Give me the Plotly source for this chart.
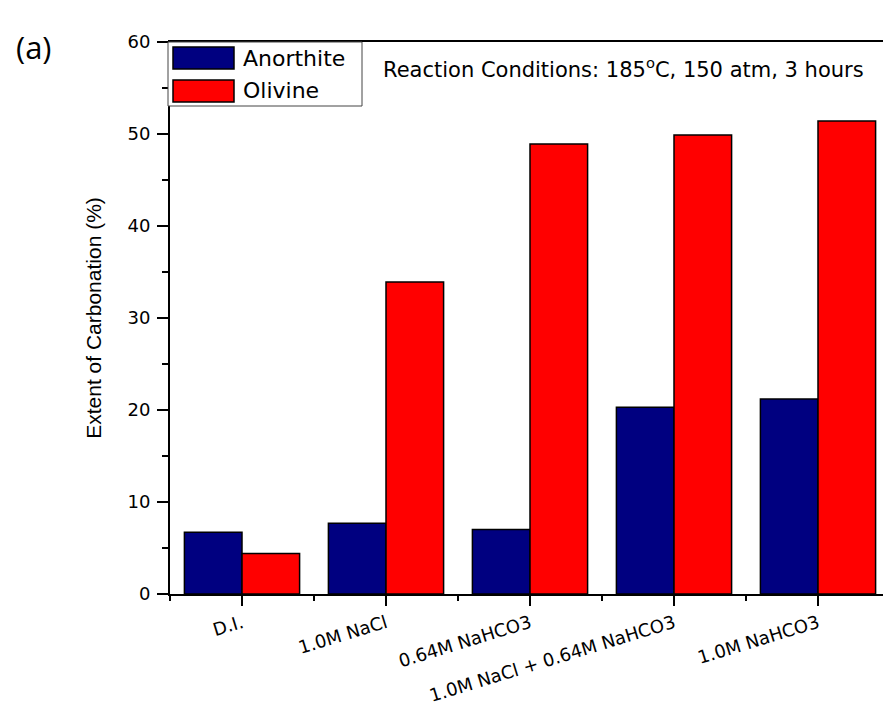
import plotly.graph_objects as go

categories = ["D.I.", "1.0M NaCl", "0.64M NaHCO3", "1.0M NaCl + 0.64M NaHCO3", "1.0M NaHCO3"]
anorthite = [6.7, 7.7, 7.0, 20.3, 21.2]
olivine = [4.4, 33.9, 48.9, 49.9, 51.4]
series_names = ["Anorthite", "Olivine"]
series_colors = ["#000080", "#FF0000"]

W, H = 883, 708
L, R, T, B = 170, 0, 42, 114
pw, ph = W - L - R, H - T - B

def px(x):
    return (x - L) / pw

def py(y):
    return (H - B - y) / ph

xpos = list(range(len(categories)))
FONT = "DejaVu Sans, Liberation Sans, Arial, sans-serif"
ARIAL = "Liberation Sans, Arial, sans-serif"

fig = go.Figure()
for name, vals, col in zip(series_names, [anorthite, olivine], series_colors):
    fig.add_trace(go.Bar(
        x=xpos, y=vals, name=name,
        marker=dict(color=col, line=dict(color="black", width=1.5)),
        showlegend=False,
    ))

fig.update_layout(
    width=W, height=H,
    margin=dict(l=L, r=R, t=T, b=B, autoexpand=False),
    paper_bgcolor="white", plot_bgcolor="white",
    barmode="group", bargap=0.2, bargroupgap=0,
    font=dict(family=FONT, size=16, color="black"),
)

fig.update_xaxes(
    range=[-0.5, -0.5 + pw / 144.0],
    tickmode="array", tickvals=xpos, ticktext=categories,
    tickangle=-17,
    ticks="outside", ticklen=10, tickwidth=2, tickcolor="black",
    minor=dict(ticks="outside", ticklen=5, tickwidth=2, tickcolor="black",
               tick0=-0.5, dtick=1),
    showline=True, linecolor="black", linewidth=2, mirror=True,
    showgrid=False, zeroline=False,
    tickfont=dict(size=18, family=FONT),
    ticklabelstandoff=0,
    automargin=False,
)
fig.update_yaxes(
    range=[0, 60], dtick=10, tick0=0,
    ticks="outside", ticklen=11, tickwidth=2, tickcolor="black",
    minor=dict(ticks="outside", ticklen=6, tickwidth=2, tickcolor="black", dtick=5),
    showline=True, linecolor="black", linewidth=2,
    showgrid=False, zeroline=False,
    tickfont=dict(size=18, family=FONT),
    ticklabelstandoff=3,
    title=dict(text="Extent of Carbonation (%)", font=dict(size=21, family=ARIAL), standoff=20),
    automargin=False,
)

# Legend box (custom, drawn to match the large swatches)
shapes = [
    dict(type="rect", xref="paper", yref="paper",
         x0=px(168), x1=px(362), y0=py(106), y1=py(42),
         line=dict(color="#444", width=1), fillcolor="white", layer="above"),
    dict(type="rect", xref="paper", yref="paper",
         x0=px(173), x1=px(234), y0=py(69), y1=py(47),
         line=dict(color="black", width=1.5), fillcolor=series_colors[0], layer="above"),
    dict(type="rect", xref="paper", yref="paper",
         x0=px(173), x1=px(234), y0=py(102), y1=py(80),
         line=dict(color="black", width=1.5), fillcolor=series_colors[1], layer="above"),
]
fig.update_layout(shapes=shapes)

annotations = [
    dict(text=series_names[0], xref="paper", yref="paper", x=px(241), y=py(58),
         xanchor="left", yanchor="middle", showarrow=False, font=dict(size=22, family=FONT)),
    dict(text=series_names[1], xref="paper", yref="paper", x=px(241), y=py(91),
         xanchor="left", yanchor="middle", showarrow=False, font=dict(size=22, family=FONT)),
    dict(text="Reaction Conditions: 185<sup>o</sup>C, 150 atm, 3 hours", xref="paper", yref="paper",
         x=px(381), y=py(68), xanchor="left", yanchor="middle", showarrow=False,
         font=dict(size=21, family=FONT)),
    dict(text="(a)", xref="paper", yref="paper", x=px(14), y=py(47),
         xanchor="left", yanchor="middle", showarrow=False,
         font=dict(size=31, family="Open Sans, sans-serif")),
]
fig.update_layout(annotations=annotations)

fig.write_html("out.html")
